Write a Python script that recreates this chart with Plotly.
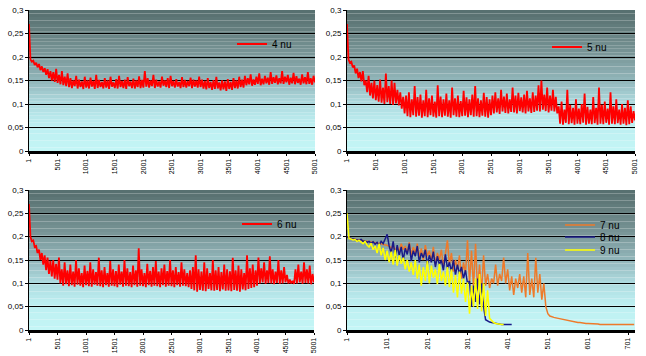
import numpy as np
import plotly.graph_objects as go

# ---------------- DATA (values in thousandths) ----------------
x_ticks_top = [1, 501, 1001, 1501, 2001, 2501, 3001, 3501, 4001, 4501, 5001]
x_ticks_br = [1, 101, 201, 301, 401, 501, 601, 701]
y_ticks = [0, 0.05, 0.1, 0.15, 0.2, 0.25, 0.3]
y_tick_labels = ["0", "0,05", "0,1", "0,15", "0,2", "0,25", "0,3"]

# samples every 25 steps from 1 to 5001
nu4 = [270,
       195, 190, 192, 183, 188, 178, 185, 172, 180, 168, 176, 162,
       174, 155, 170, 150, 168, 147, 175, 145, 162, 142, 170, 140, 158, 138, 165, 136,
       155, 134, 150, 138, 160, 133, 152, 136, 148, 132, 158, 135, 150, 133, 156, 137, 149, 132, 162, 134,
       151, 136, 147, 133, 155, 135, 150, 132, 158, 137, 146, 134, 153, 133, 160, 136, 149, 134, 152, 132,
       157, 138, 148, 134, 154, 133, 150, 136, 159, 134, 151, 135,
       170, 137, 155, 135, 150, 138, 162, 134, 152, 137, 148, 135, 158, 139, 150, 136, 155, 134, 160, 138,
       149, 135, 153, 137, 147, 134, 157, 136, 151, 135, 149, 138, 156, 134, 152, 137, 150, 135, 158, 136,
       152, 133, 149, 131, 155, 134, 147, 130, 151, 132, 158, 133, 146, 129, 150, 131, 148, 128, 153, 132,
       147, 130, 155, 134, 150, 133, 158, 136, 152, 135,
       160, 140, 155, 142, 163, 139, 152, 141, 158, 143, 165, 140, 154, 142, 160, 144, 156, 141, 168, 143,
       157, 145, 161, 142, 155, 144, 170, 143, 158, 146, 162, 141, 156, 144, 166, 142, 159, 145, 154, 141,
       163, 144, 157, 142, 168, 143, 155, 141, 160, 146]

nu5 = [270,
       195, 188, 190, 178, 182, 165, 175, 155, 168, 148, 170, 140,
       150, 125, 160, 118, 145, 112, 150, 108,
       140, 105, 152, 103, 135, 100, 165, 104, 138, 100, 150, 98, 145, 101, 130, 97,
       125, 90, 115, 80,
       118, 74, 125, 72, 110, 76, 138, 73, 115, 75, 120, 71, 108, 74, 130, 72, 112, 76, 118, 73,
       105, 71, 140, 74, 116, 72, 110, 75, 122, 73, 108, 71, 135, 76, 112, 73, 118, 72, 106, 74,
       128, 75, 114, 72, 110, 76, 120, 73, 138, 74, 112, 72, 108, 75, 124, 73, 115, 71, 110, 76,
       118, 80, 125, 82, 112, 79, 130, 84, 116, 81, 122, 80, 110, 83, 135, 82, 118, 80, 124, 85,
       114, 82, 120, 80, 128, 84, 112, 81, 125, 83, 118, 86, 140, 84, 150, 88,
       120, 85, 135, 82, 118, 86, 130, 84, 115, 80,
       95, 58, 105, 56, 88, 60, 130, 57, 98, 59, 92, 56, 110, 58, 90, 57, 100, 60, 122, 56,
       94, 58, 88, 57, 115, 59, 92, 56, 135, 58, 98, 57, 105, 60, 90, 56, 125, 58, 95, 57,
       110, 59, 88, 56, 100, 58, 92, 55, 108, 57, 95, 60, 85, 65]

nu6 = [270,
       200, 190, 192, 178, 180, 165, 172, 150, 165, 140, 160, 128,
       155, 120, 148, 115, 150, 110, 142, 108,
       155, 100, 130, 95, 145, 98, 128, 94, 140, 96, 125, 93, 150, 97, 132, 95, 122, 92, 138, 96,
       127, 94, 145, 93, 130, 97, 124, 95, 155, 94, 128, 92, 135, 96, 122, 93, 148, 95, 130, 94,
       126, 92, 140, 97, 125, 93, 150, 95, 132, 94, 124, 92, 138, 96, 128, 93, 175, 95, 130, 94,
       122, 92, 142, 96, 127, 93, 135, 95, 148, 94, 125, 92, 132, 96, 140, 93, 126, 95, 150, 94,
       128, 92, 135, 96, 124, 93, 145, 95, 130, 94, 122, 92,
       128, 88, 135, 85, 160, 82, 130, 86, 125, 84, 145, 83, 132, 88, 122, 85, 150, 84, 128, 86,
       135, 83, 124, 87, 140, 84, 130, 85, 126, 83, 155, 86, 128, 84, 138, 82, 130, 87, 122, 85,
       160, 88, 132, 90, 140, 92, 128, 95,
       155, 100, 132, 102, 145, 99, 128, 101, 158, 100, 130, 98, 125, 101, 150, 99, 128, 100, 135, 102,
       118, 100, 108, 100, 105, 99, 130, 100, 140, 102, 125, 99, 145, 101, 130, 100, 138, 98, 120, 102]

# bottom-right chart: samples every 5 steps starting at 1
nu7 = [200,
       197, 196, 195, 194, 194, 193, 192, 192, 191, 190, 190, 189, 188, 187, 186, 186, 185, 184, 183, 182,
       180, 175, 182, 170, 178, 168, 185, 172, 180, 165,
       188, 160, 178, 165, 185, 155, 175, 150, 182, 158,
       170, 148, 178, 140, 165, 150, 172, 135, 160, 192,
       140, 165, 125, 150, 130, 160, 110, 145, 120, 192,
       100, 170, 90, 185, 85, 140, 80, 160, 95, 120,
       90, 110, 100, 140, 95, 120, 105, 155, 100, 130,
       85, 115, 75, 110, 90, 120, 80, 115, 70, 165,
       75, 110, 70, 155, 80, 120, 65, 100,
       50, 35, 30, 28, 27, 26,
       25, 24, 23, 22, 21, 20, 19, 18, 18, 17, 16, 16, 15, 15, 14, 14, 14, 13, 13, 13,
       13, 12, 12, 12, 12, 12, 12, 12, 12, 12, 12, 12, 12, 12, 12, 12, 12, 12, 12]

nu8 = [200,
       197, 196, 195, 195, 193, 192, 194, 190, 191, 188, 190, 186, 189, 184, 188, 182, 190, 185, 195, 205,
       180, 165, 190, 155, 182, 160, 178, 150, 175, 162, 185, 148, 170, 158, 180, 145, 165, 155, 172, 140,
       160, 145, 168, 135, 158, 140, 150, 128, 162, 132, 145, 125, 150, 118, 140, 120, 135, 110, 128, 100,
       105, 50, 95, 60, 110, 55, 100, 50,
       22, 19, 17, 16, 15, 14, 13, 13, 12, 12, 12, 12, 12, 12]

nu9 = [250,
       196, 195, 193, 194, 190, 192, 188, 185, 190, 182,
       178, 186, 172, 180, 165, 185, 160, 176, 150, 170,
       145, 168, 140, 172, 138, 160, 142, 155, 130, 150,
       125, 145, 118, 150, 110, 140, 95, 135, 105, 148,
       100, 138, 112, 130, 98, 142, 105, 125, 95, 135,
       92, 130, 80, 118, 70, 125, 78, 110, 60, 102, 35, 95, 50, 110,
       45, 120, 40, 100, 30, 85, 25,
       20, 16, 14, 13, 12, 12, 12]

# ---------------- FIGURE ----------------
W, H = 646, 356
FONT = "Liberation Sans, Arial, sans-serif"


def top_x(vals):
    return np.linspace(1, 5001, len(vals))


def br_x(vals):
    return 1 + 5 * np.arange(len(vals))


def scale(vals):
    return np.array(vals) / 1000.0


RED = dict(color="#ff0000", width=1.8)
fig = go.Figure()
fig.add_trace(go.Scatter(x=top_x(nu4), y=scale(nu4), mode="lines", name="4 nu",
                         line=RED, xaxis="x", yaxis="y", legend="legend2"))
fig.add_trace(go.Scatter(x=top_x(nu5), y=scale(nu5), mode="lines", name="5 nu",
                         line=RED, xaxis="x2", yaxis="y2", legend="legend3"))
fig.add_trace(go.Scatter(x=top_x(nu6), y=scale(nu6), mode="lines", name="6 nu",
                         line=RED, xaxis="x3", yaxis="y3", legend="legend4"))
fig.add_trace(go.Scatter(x=br_x(nu7), y=scale(nu7), mode="lines", name="7 nu",
                         line=dict(color="#ee7a2a", width=1.5), xaxis="x4", yaxis="y4", legend="legend5"))
fig.add_trace(go.Scatter(x=br_x(nu8), y=scale(nu8), mode="lines", name="8 nu",
                         line=dict(color="#1a1a88", width=1.5), xaxis="x4", yaxis="y4", legend="legend6"))
fig.add_trace(go.Scatter(x=br_x(nu9), y=scale(nu9), mode="lines", name="9 nu",
                         line=dict(color="#ffff00", width=1.5), xaxis="x4", yaxis="y4", legend="legend7"))

# pixel boxes of the four plot areas: (left, right, top, bottom)
boxes = {
    "": (29, 315, 10, 151),
    "2": (347, 635, 10, 151),
    "3": (29, 314, 190, 330),
    "4": (347, 635, 190, 330),
}

layout = dict(width=W, height=H, margin=dict(l=0, r=0, t=0, b=0, autoexpand=False),
              paper_bgcolor="white", plot_bgcolor="rgba(0,0,0,0)",
              font=dict(family=FONT, size=8, color="black"), showlegend=True)

for k, (l, r, t, b) in boxes.items():
    xd = [l / W, r / W]
    yd = [1 - b / H, 1 - t / H]
    if k == "4":
        xr, xt = [1, 718], x_ticks_br
    else:
        xr, xt = [1, 5001], x_ticks_top
    layout["xaxis" + k] = dict(domain=xd, range=xr, anchor="y" + k, tickvals=xt,
                               ticktext=[str(v) for v in xt], tickangle=-90, automargin=False,
                               tickfont=dict(size=7, family=FONT), showgrid=False,
                               showline=True, linecolor="black", linewidth=3,
                               ticks="outside", ticklen=2, tickcolor="black", zeroline=False)
    layout["yaxis" + k] = dict(domain=yd, range=[0, 0.3], anchor="x" + k, tickvals=y_ticks,
                               ticktext=y_tick_labels, tickfont=dict(size=8, family=FONT),
                               showgrid=True, gridcolor="black", gridwidth=1, automargin=False,
                               showline=True, linecolor="black", linewidth=1,
                               ticks="outside", ticklen=3, tickcolor="black", zeroline=False)


# legends (one per entry)
def leg(xpx, ypx):
    return dict(x=xpx / W, y=1 - ypx / H, xanchor="left", yanchor="middle",
                bgcolor="rgba(0,0,0,0)", borderwidth=0, itemwidth=30,
                font=dict(size=10, family=FONT, color="black"))


layout["legend2"] = leg(232, 44)
layout["legend3"] = leg(547, 47)
layout["legend4"] = leg(237, 224)
layout["legend5"] = leg(560, 225)
layout["legend6"] = leg(560, 237)
layout["legend7"] = leg(560, 250)

# gradient background bands
stops = [(0.0, (196, 246, 246)), (0.2, (188, 238, 240)), (0.35, (172, 216, 221)),
         (0.5, (146, 182, 186)), (0.7, (120, 148, 150)), (0.85, (102, 128, 128)), (1.0, (86, 110, 110))]


def grad(f):
    for (f0, c0), (f1, c1) in zip(stops[:-1], stops[1:]):
        if f0 <= f <= f1:
            u = (f - f0) / (f1 - f0)
            return "rgb(%d,%d,%d)" % tuple(round(a + (b_ - a) * u) for a, b_ in zip(c0, c1))
    return "rgb(%d,%d,%d)" % stops[-1][1]


shapes = []
N = 40
for k in boxes:
    xr = "x" + k + " domain"
    yr = "y" + k + " domain"
    for i in range(N):
        shapes.append(dict(type="rect", xref=xr, yref=yr, x0=0, x1=1, y0=i / N, y1=(i + 1) / N,
                           fillcolor=grad((i + 0.5) / N), line=dict(width=0), layer="below"))
layout["shapes"] = shapes

fig.update_layout(**layout)
fig.write_html("out.html", config={"displayModeBar": False},
               post_script="document.body.style.margin='0';document.body.style.padding='0';")
